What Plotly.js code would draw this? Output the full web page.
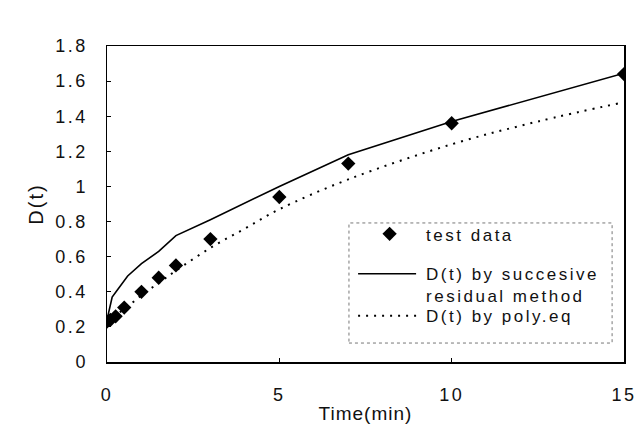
<!DOCTYPE html>
<html>
<head>
<meta charset="utf-8">
<script src="https://cdn.plot.ly/plotly-3.0.1.min.js"></script>
<style>
html,body{margin:0;padding:0;background:#fff;}
#chart{width:638px;height:433px;}
#chart svg text{letter-spacing:2.5px !important;}
#chart .g-xtitle text{letter-spacing:1px !important;}
#chart .g-ytitle text{letter-spacing:2px !important;}
</style>
</head>
<body>
<div id="chart"></div>
<script>
// test data
const tTest = [0, 0.1, 0.25, 0.5, 1, 1.5, 2, 3, 5, 7, 10, 15];
const dTest = [0.23, 0.24, 0.26, 0.31, 0.40, 0.48, 0.55, 0.70, 0.94, 1.13, 1.36, 1.64];
// D(t) by successive residual method
const tResid = [0, 0.15, 0.3, 0.6, 1, 1.5, 2, 3, 5, 7, 10, 15];
const dResid = [0.24, 0.37, 0.41, 0.49, 0.56, 0.63, 0.72, 0.81, 1.00, 1.18, 1.37, 1.645];
// D(t) by poly.eq
const tPoly = [0, 0.25, 0.5, 1, 1.5, 2, 3, 4, 5, 7, 10, 12.5, 15];
const dPoly = [0.23, 0.27, 0.30, 0.38, 0.45, 0.52, 0.65, 0.76, 0.87, 1.04, 1.24, 1.37, 1.48];

const xTicks = [0, 5, 10, 15];
const yTicks = [0, 0.2, 0.4, 0.6, 0.8, 1, 1.2, 1.4, 1.6, 1.8];
const yTickText = ['0', '0.2', '0.4', '0.6', '0.8', '1', '1.2', '1.4', '1.6', '1.8'];

const traces = [
  {x: tTest, y: dTest, mode: 'markers', name: 'test data',
   marker: {symbol: 'diamond', size: 11, color: '#000'}, legend: 'legend'},
  {x: tResid, y: dResid, mode: 'lines', name: 'D(t) by succesive<br>residual method',
   line: {color: '#000', width: 1.6}, legend: 'legend2'},
  {x: tPoly, y: dPoly, mode: 'lines', name: 'D(t) by poly.eq',
   line: {color: '#000', width: 2, dash: '2px,6px', shape: 'spline'}, legend: 'legend3'}
];

const axFont = {family: 'Liberation Sans, Arial, sans-serif', size: 18, color: '#111'};
const legFont = {family: 'Liberation Sans, Arial, sans-serif', size: 17, color: '#111'};
function legendAt(y) {
  return {x: 0.476, y: y, xanchor: 'left', yanchor: 'top', valign: 'top',
          bgcolor: 'rgba(0,0,0,0)', borderwidth: 0, font: legFont, itemwidth: 63};
}

const layout = {
  width: 638, height: 433,
  margin: {l: 107, r: 14, t: 46, b: 71},
  paper_bgcolor: '#fff', plot_bgcolor: '#fff',
  showlegend: true,
  legend: legendAt(0.461),
  legend2: legendAt(0.335),
  legend3: legendAt(0.202),
  xaxis: {
    range: [0, 15], tickvals: xTicks, ticktext: xTicks.map(String),
    showgrid: false, zeroline: false,
    showline: true, mirror: true, linecolor: '#000', linewidth: 1.5,
    ticks: 'inside', ticklen: 4, tickcolor: '#000',
    tickfont: axFont, ticklabelstandoff: 16,
    title: {text: 'Time(min)', font: {family: 'Liberation Sans, Arial, sans-serif', size: 19, color: '#111'}, standoff: 2}
  },
  yaxis: {
    range: [0, 1.8], tickvals: yTicks, ticktext: yTickText,
    showgrid: false, zeroline: false,
    showline: true, mirror: true, linecolor: '#000', linewidth: 1.5,
    ticks: 'inside', ticklen: 4, tickcolor: '#000',
    tickfont: axFont, ticklabelstandoff: 14,
    title: {text: 'D(t)', font: {family: 'Liberation Sans, Arial, sans-serif', size: 20, color: '#111'}, standoff: 14}
  },
  shapes: [
    {type: 'rect', xref: 'paper', yref: 'paper', x0: 0.468, x1: 0.977, y0: 0.06, y1: 0.44,
     line: {color: '#777', width: 1, dash: 'dot'}, fillcolor: 'rgba(0,0,0,0)'}
  ]
};

function touchUp(gd) {
  // lengthen legend line samples like the original, and let legend text overflow freely
  gd.querySelectorAll('.legendlines path').forEach(function(p){
    p.setAttribute('d', 'M5,0h58');
  });
  gd.querySelectorAll('.infolayer [clip-path]').forEach(function(e){
    e.removeAttribute('clip-path');
  });
}

Plotly.newPlot('chart', traces, layout, {displayModeBar: false, staticPlot: true}).then(function(gd){
  touchUp(gd);
  setTimeout(function(){ touchUp(gd); }, 50);
});
</script>
</body>
</html>
